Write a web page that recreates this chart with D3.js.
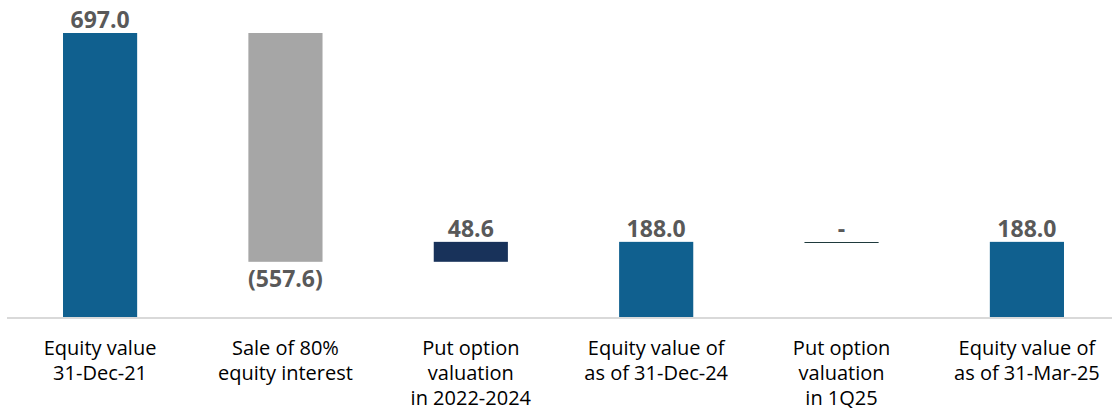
<!DOCTYPE html>
<html><head><meta charset="utf-8">
<script src="https://cdn.jsdelivr.net/npm/d3@7"></script>
<style>html,body{margin:0;padding:0;background:#fff;}svg{display:block;}</style>
</head><body>
<svg id="chart" width="1112" height="412"></svg>
<script>
const categories = [
  ["Equity value", "31-Dec-21"],
  ["Sale of 80%", "equity interest"],
  ["Put option", "valuation", "in 2022-2024"],
  ["Equity value of", "as of 31-Dec-24"],
  ["Put option", "valuation", "in 1Q25"],
  ["Equity value of", "as of 31-Mar-25"]
];
const values = [697.0, -557.6, 48.6, 188.0, 0, 188.0];
const kinds = ["total", "delta", "delta", "total", "delta", "total"];

const colors = {total: "#10608f", neg: "#a6a6a6", pos: "#18325a", zero: "#1f3a3d"};
const labelColor = "#595959";

// compute waterfall
let running = 0;
const bars = values.map((v, i) => {
  let y0, y1;
  if (kinds[i] === "total") { y0 = 0; y1 = v; running = v; }
  else { y0 = running; y1 = running + v; running = y1; }
  return {i, v, kind: kinds[i], lo: Math.min(y0, y1), hi: Math.max(y0, y1), end: y1};
});

const svg = d3.select("#chart");
const x = d3.scaleBand().domain(d3.range(categories.length)).range([7.4, 1119.6]).paddingInner(0.6).paddingOuter(0.3);
const y = d3.scaleLinear().domain([0, 697]).range([319, 33]);

const fmt = v => v < 0 ? "(" + Math.abs(v).toFixed(1) + ")" : (v === 0 ? "-" : v.toFixed(1));
const colorOf = d => d.kind === "total" ? colors.total : (d.v < 0 ? colors.neg : (d.v > 0 ? colors.pos : colors.zero));

// bars
svg.append("g").selectAll("rect").data(bars.filter(d => d.v !== 0)).join("rect")
  .attr("x", d => x(d.i)).attr("width", x.bandwidth())
  .attr("y", d => y(d.hi)).attr("height", d => y(d.lo) - y(d.hi))
  .attr("fill", colorOf);

// zero delta as line
svg.append("g").selectAll("line").data(bars.filter(d => d.v === 0)).join("line")
  .attr("x1", d => x(d.i)).attr("x2", d => x(d.i) + x.bandwidth())
  .attr("y1", d => Math.round(y(d.hi)) + 0.5).attr("y2", d => Math.round(y(d.hi)) + 0.5)
  .attr("stroke", colors.zero).attr("stroke-width", 1);

// axis line
svg.append("line").attr("x1", 7).attr("x2", 1112).attr("y1", 318).attr("y2", 318)
  .attr("stroke", "#d9d9d9").attr("stroke-width", 2);

// value labels
svg.append("g").selectAll("text").data(bars).join("text")
  .attr("x", d => x(d.i) + x.bandwidth() / 2)
  .attr("y", d => d.v < 0 && d.kind !== "total" ? y(d.lo) + 25 : y(d.hi) - 5)
  .attr("text-anchor", "middle")
  .attr("font-family", "'Open Sans', sans-serif").attr("font-weight", "bold").attr("font-size", 23)
  .attr("fill", labelColor)
  .text(d => fmt(d.v));

// category labels
const cat = svg.append("g").selectAll("text").data(categories).join("text")
  .attr("x", (d, i) => x(i) + x.bandwidth() / 2)
  .attr("y", 355)
  .attr("text-anchor", "middle")
  .attr("font-family", "'Open Sans', sans-serif").attr("font-size", 20)
  .attr("fill", "#000");
cat.selectAll("tspan").data(d => d).join("tspan")
  .attr("x", function() { return this.parentNode.getAttribute("x"); })
  .attr("dy", (d, j) => j === 0 ? 0 : 25)
  .text(d => d);
</script>
</body></html>
